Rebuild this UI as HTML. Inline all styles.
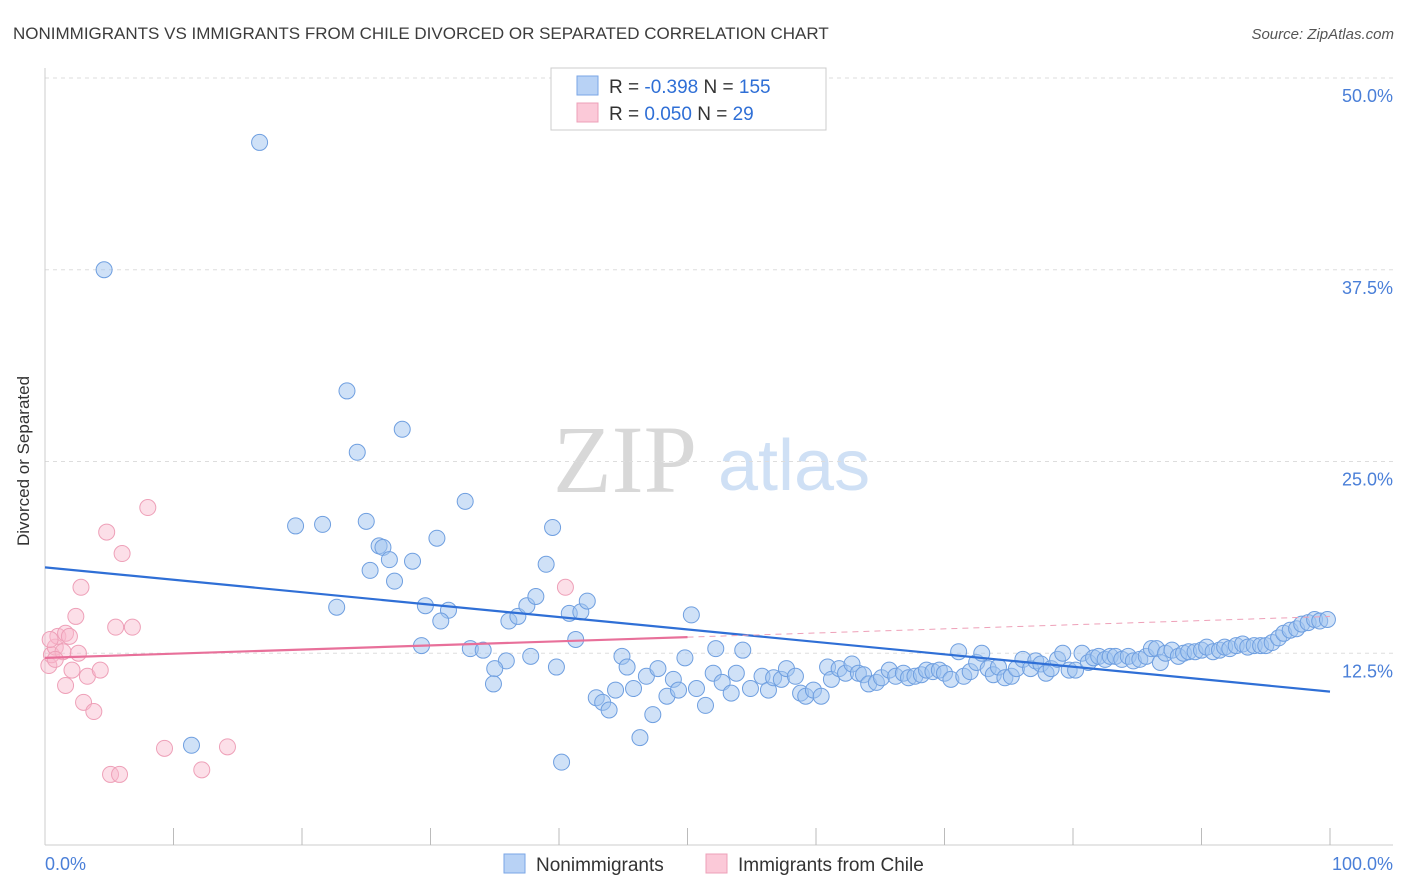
<!DOCTYPE html>
<html><head><meta charset="utf-8"><style>
body{margin:0;background:#fff;font-family:"Liberation Sans",sans-serif}
</style></head><body>
<svg width="1406" height="892" viewBox="0 0 1406 892" style="display:block">
<text x="13" y="39" font-size="17" fill="#3c3c3c">NONIMMIGRANTS VS IMMIGRANTS FROM CHILE DIVORCED OR SEPARATED CORRELATION CHART</text>
<text x="1394" y="39" font-size="15" fill="#555" font-style="italic" text-anchor="end">Source: ZipAtlas.com</text>
<g>
<text x="553" y="492" font-family="Liberation Serif,serif" font-size="96" fill="#d8d8d8">ZIP</text>
<text x="718" y="490" font-size="72" fill="#cfe0f5">atlas</text>
</g>
<g id="grid"></g>
<line x1="45" y1="68" x2="45" y2="845" stroke="#ccc"/>
<line x1="45" y1="845" x2="1393" y2="845" stroke="#ccc"/>
<g id="xticks"></g>
<text x="23" y="455" font-size="17" fill="#333" text-anchor="middle" transform="rotate(-90 29 455)">Divorced or Separated</text>
<text x="45" y="870" font-size="18" fill="#4a7fd8">0.0%</text>
<text x="1393" y="870" font-size="18" fill="#4a7fd8" text-anchor="end">100.0%</text>
<g id="pts"></g>
<g id="trends"></g>
<g>
<rect x="551" y="68" width="275" height="62" fill="#fff" stroke="#ccc"/>
<rect x="577" y="76" width="21" height="19" fill="#b8d2f5" stroke="#7aa6e6"/>
<rect x="577" y="103" width="21" height="19" fill="#fbc9d8" stroke="#eea0b8"/>
<text x="609" y="93" font-size="19" fill="#333">R = <tspan fill="#2f6fd6">-0.398</tspan>   N = <tspan fill="#2f6fd6">155</tspan></text>
<text x="609" y="120" font-size="19" fill="#333">R =  <tspan fill="#2f6fd6">0.050</tspan>   N =   <tspan fill="#2f6fd6">29</tspan></text>
</g>
<g>
<rect x="504" y="854" width="21" height="19" fill="#b8d2f5" stroke="#7aa6e6"/>
<text x="536" y="871" font-size="19" fill="#333">Nonimmigrants</text>
<rect x="706" y="854" width="21" height="19" fill="#fbc9d8" stroke="#eea0b8"/>
<text x="738" y="871" font-size="19" fill="#333">Immigrants from Chile</text>
</g>
</svg>
<script>
const yTicks=[12.5,25,37.5,50];
const yTickLabels=["12.5%","25.0%","37.5%","50.0%"];
const xTicks=[10,20,30,40,50,60,70,80,90,100];
const blueX=[16.7,4.6,23.5,27.8,24.3,32.7,19.5,21.6,25.0,39.5,30.5,26.0,26.3,26.8,25.3,28.6,39.0,27.2,22.7,29.6,31.4,30.8,36.1,36.8,37.5,38.2,40.8,41.7,42.2,50.3,41.3,29.3,33.1,34.1,35.9,35.0,34.9,37.8,39.8,44.9,45.3,49.8,52.2,54.3,42.9,43.4,43.9,44.4,45.8,46.8,47.7,48.4,48.9,49.3,47.3,46.3,50.7,51.4,52.0,52.7,53.4,53.8,54.9,55.8,56.3,56.7,57.3,57.7,58.4,58.8,59.2,59.8,60.4,60.9,61.2,61.8,62.3,62.8,63.3,63.7,64.1,64.7,65.1,65.7,66.2,66.8,67.2,67.7,68.2,68.6,69.1,69.6,70.0,70.5,71.1,71.5,72.0,72.5,72.9,73.4,73.8,74.2,74.7,75.2,75.6,76.1,76.7,77.1,77.5,77.9,78.3,78.8,79.2,79.7,80.2,80.7,81.2,81.6,82.0,82.5,82.9,83.3,83.8,84.3,84.7,85.2,85.7,86.1,86.5,86.8,87.2,87.7,88.2,88.6,89.0,89.5,90.0,90.4,90.9,91.4,91.8,92.2,92.7,93.2,93.6,94.1,94.6,95.0,95.5,96.0,96.4,96.9,97.4,97.8,98.3,98.8,99.2,99.8,11.4,40.2];
const blueY=[45.8,37.5,29.6,27.1,25.6,22.4,20.8,20.9,21.1,20.7,20.0,19.5,19.4,18.6,17.9,18.5,18.3,17.2,15.5,15.6,15.3,14.6,14.6,14.9,15.6,16.2,15.1,15.2,15.9,15.0,13.4,13.0,12.8,12.7,12.0,11.5,10.5,12.3,11.6,12.3,11.6,12.2,12.8,12.7,9.6,9.3,8.8,10.1,10.2,11.0,11.5,9.7,10.8,10.1,8.5,7.0,10.2,9.1,11.2,10.6,9.9,11.2,10.2,11.0,10.1,10.9,10.8,11.5,11.0,9.9,9.7,10.1,9.7,11.6,10.8,11.5,11.2,11.8,11.2,11.1,10.5,10.6,10.9,11.4,11.0,11.2,10.9,11.0,11.1,11.4,11.3,11.4,11.2,10.8,12.6,11.0,11.3,11.9,12.5,11.5,11.1,11.6,10.9,11.0,11.5,12.1,11.5,12.0,11.8,11.2,11.5,12.1,12.5,11.4,11.4,12.5,11.9,12.2,12.3,12.1,12.3,12.3,12.1,12.3,12.0,12.1,12.3,12.8,12.8,11.9,12.5,12.7,12.3,12.5,12.6,12.6,12.7,12.9,12.6,12.7,12.9,12.8,13.0,13.1,12.9,13.0,13.0,13.0,13.2,13.5,13.8,14.0,14.1,14.4,14.5,14.7,14.6,14.7,6.5,5.4];
const pinkX=[0.3,0.5,0.8,1.0,1.4,1.6,1.9,2.6,1.6,2.1,3.3,4.3,3.0,3.8,2.4,2.8,4.8,6.0,8.0,5.5,6.8,9.3,14.2,5.1,5.8,12.2,40.5,0.4,0.8];
const pinkY=[11.7,12.4,12.9,13.6,12.6,13.8,13.6,12.5,10.4,11.4,11.0,11.4,9.3,8.7,14.9,16.8,20.4,19.0,22.0,14.2,14.2,6.3,6.4,4.6,4.6,4.9,16.8,13.4,12.1];
const blueTrend=[18.1,10.0];
const pinkTrend=[12.2,14.9];
const pinkSolidEnd=50;
const NS="http://www.w3.org/2000/svg";
const sx=v=>45+v*12.85, sy=v=>845-v*15.34;
function mk(tag,attrs,parent){const e=document.createElementNS(NS,tag);for(const k in attrs)e.setAttribute(k,attrs[k]);parent.appendChild(e);return e;}
const svg=document.querySelector('svg');
const grid=document.getElementById('grid');
yTicks.forEach((t,i)=>{
 const l=mk('line',{x1:45,x2:1393,y1:sy(t),y2:sy(t),stroke:'#ddd','stroke-dasharray':'4 4'},grid);
 
 
 const tx=mk('text',{x:1393,y:sy(t)+24,'font-size':18,fill:'#4a7fd8','text-anchor':'end'},grid);
 tx.textContent=yTickLabels[i];
 
 
});
const xt=document.getElementById('xticks');
xTicks.forEach(t=>{
 const l=mk('line',{x1:sx(t),x2:sx(t),y1:828,y2:845,stroke:'#bbb'},xt);
 
 
});
const pts=document.getElementById('pts');
blueX.forEach((x,i)=>{
 const c=mk('circle',{cx:sx(x),cy:sy(blueY[i]),r:8,fill:'rgba(160,196,240,0.5)',stroke:'#6f9fe0','stroke-width':1},pts);
 
 
});
pinkX.forEach((x,i)=>{
 const c=mk('circle',{cx:sx(x),cy:sy(pinkY[i]),r:8,fill:'rgba(248,185,205,0.45)',stroke:'#eea0b8','stroke-width':1},pts);
 
 
});
const tr=document.getElementById('trends');
const bl=mk('line',{x1:sx(0),y1:sy(blueTrend[0]),x2:sx(100),y2:sy(blueTrend[1]),stroke:'#2f6fd6','stroke-width':2.2},tr);


const pm=pinkTrend[0]+(pinkTrend[1]-pinkTrend[0])*pinkSolidEnd/100;
const pl=mk('line',{x1:sx(0),y1:sy(pinkTrend[0]),x2:sx(pinkSolidEnd),y2:sy(pm),stroke:'#e8709a','stroke-width':2.2},tr);


const pd=mk('line',{x1:sx(pinkSolidEnd),y1:sy(pm),x2:sx(100),y2:sy(pinkTrend[1]),stroke:'#eea0b8','stroke-width':1,'stroke-dasharray':'6 5'},tr);


</script>
</body></html>
